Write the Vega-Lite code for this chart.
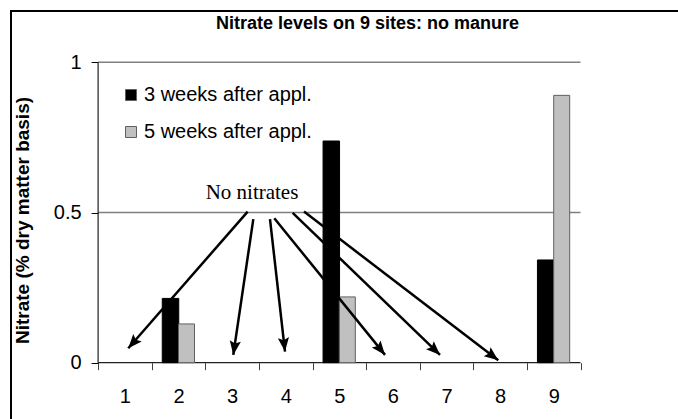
{
  "$schema": "https://vega.github.io/schema/vega-lite/v6.json",
  "width": 670,
  "height": 411,
  "autosize": "none",
  "padding": {"left": 11, "top": 11, "right": -3, "bottom": -3},
  "background": "white",
  "config": {"view": {"stroke": "black", "strokeWidth": 2}, "font": "Liberation Sans"},
  "title": {"text": "Nitrate levels on 9 sites: no manure", "font": "Liberation Sans", "fontSize": 18, "fontWeight": "bold", "color": "black", "anchor": "middle", "frame": "group", "orient": "top", "offset": -19.5, "baseline": "alphabetic", "dx": 21.5, "dy": 16.5},
  "resolve": {"axis": {"x": "independent"}},
  "datasets": {
    "bars": [
      {"site": 2, "series": "3 weeks after appl.", "nitrate": 0.214},
      {"site": 2, "series": "5 weeks after appl.", "nitrate": 0.129},
      {"site": 5, "series": "3 weeks after appl.", "nitrate": 0.738},
      {"site": 5, "series": "5 weeks after appl.", "nitrate": 0.219},
      {"site": 9, "series": "3 weeks after appl.", "nitrate": 0.342},
      {"site": 9, "series": "5 weeks after appl.", "nitrate": 0.89}
    ],
    "arrows": [
      {"x": 3.291, "y": 0.503, "x2": 1.063, "y2": 0.048},
      {"x": 3.396, "y": 0.478, "x2": 3.022, "y2": 0.026},
      {"x": 3.707, "y": 0.478, "x2": 3.987, "y2": 0.037},
      {"x": 3.787, "y": 0.481, "x2": 5.853, "y2": 0.026},
      {"x": 4.13, "y": 0.499, "x2": 6.879, "y2": 0.026},
      {"x": 4.341, "y": 0.503, "x2": 7.966, "y2": 0.008}
    ],
    "grid": [{"v": 0.5}, {"v": 1}],
    "axislines": [
      {"x": 0.5, "y": 0, "x2": 0.5, "y2": 1, "kind": "y"},
      {"x": 0.5, "y": 0, "x2": 9.5, "y2": 0, "kind": "x"}
    ],
    "note": [{"x": 3.371, "y": 0.545, "label": "No nitrates"}]
  },
  "layer": [
    {
      "data": {"name": "grid"},
      "mark": {"type": "rule", "color": "#808080", "strokeWidth": 1.5},
      "encoding": {
        "x": {
          "datum": 0.5, "type": "quantitative",
          "scale": {"domain": [-1.125, 11.375], "nice": false, "zero": false, "padding": 0},
          "axis": {
            "orient": "bottom", "offset": -59.3, "title": null,
            "values": [0.5, 1.5, 2.5, 3.5, 4.5, 5.5, 6.5, 7.5, 8.5, 9.5],
            "domain": false, "grid": false, "labels": false,
            "tickSize": 7, "tickColor": "#404040", "tickWidth": 1
          }
        },
        "x2": {"datum": 9.5},
        "y": {
          "field": "v", "type": "quantitative",
          "scale": {"domain": [-0.1974, 1.1708], "nice": false, "zero": false, "padding": 0},
          "axis": {
            "orient": "left", "offset": -87.1, "values": [0, 0.5, 1], "format": "~g",
            "domain": false, "grid": false, "tickSize": 7, "tickColor": "black", "tickWidth": 1,
            "labelFont": "Liberation Sans", "labelFontSize": 20, "labelColor": "black", "labelPadding": 10,
            "title": "Nitrate (% dry matter basis)", "titleFont": "Liberation Sans", "titleFontSize": 19,
            "titleFontWeight": "bold", "titleColor": "black", "titleAngle": -90,
            "titleX": -76, "titleY": 209, "titleAlign": "center", "titleBaseline": "middle"
          }
        }
      }
    },
    {
      "data": {"name": "axislines"},
      "mark": {"type": "rule", "color": "#202020", "strokeWidth": 1.2},
      "encoding": {
        "x": {
          "field": "x", "type": "quantitative",
          "axis": {
            "orient": "bottom", "offset": -59.3, "title": null,
            "values": [1, 2, 3, 4, 5, 6, 7, 8, 9], "format": "d",
            "domain": false, "grid": false, "ticks": false,
            "labelFont": "Liberation Sans", "labelFontSize": 20, "labelColor": "black", "labelPadding": 24
          }
        },
        "x2": {"field": "x2"},
        "y": {"field": "y", "type": "quantitative"},
        "y2": {"field": "y2"}
      }
    },
    {
      "data": {"name": "bars"},
      "transform": [{"filter": "datum.series === '3 weeks after appl.'"}],
      "mark": {"type": "bar", "width": 16.5, "xOffset": -8, "stroke": "black", "strokeWidth": 1},
      "encoding": {
        "x": {"field": "site", "type": "quantitative", "axis": null},
        "y": {"field": "nitrate", "type": "quantitative"},
        "y2": {"datum": 0},
        "color": {
          "field": "series", "type": "nominal",
          "scale": {"domain": ["3 weeks after appl.", "5 weeks after appl."], "range": ["#000000", "#c0c0c0"]},
          "legend": {
            "orient": "none", "legendX": 110, "legendY": 74, "title": null, "padding": 0,
            "symbolType": "square", "symbolSize": 121, "symbolStrokeColor": "#333333", "symbolStrokeWidth": 1,
            "labelFont": "Liberation Sans", "labelFontSize": 20, "labelColor": "black", "labelLimit": 0,
            "rowPadding": 17, "labelOffset": 3
          }
        }
      }
    },
    {
      "data": {"name": "bars"},
      "transform": [{"filter": "datum.series === '5 weeks after appl.'"}],
      "mark": {"type": "bar", "width": 16, "xOffset": 8, "stroke": "#606060", "strokeWidth": 1},
      "encoding": {
        "x": {"field": "site", "type": "quantitative", "axis": null},
        "y": {"field": "nitrate", "type": "quantitative"},
        "y2": {"datum": 0},
        "color": {"field": "series", "type": "nominal"}
      }
    },
    {
      "data": {"name": "arrows"},
      "mark": {"type": "rule", "color": "black", "strokeWidth": 2.5},
      "encoding": {
        "x": {"field": "x", "type": "quantitative", "axis": null},
        "x2": {"field": "x2"},
        "y": {"field": "y", "type": "quantitative"},
        "y2": {"field": "y2"}
      }
    },
    {
      "data": {"name": "arrows"},
      "transform": [{"calculate": "atan2((datum.x2 - datum.x) * 53.6, (datum.y2 - datum.y) * 300.4) * 180 / PI", "as": "ang"}],
      "mark": {"type": "point", "shape": "M0,0L0.4,1L0,0.82L-0.4,1Z", "filled": true, "color": "black", "opacity": 1, "size": 784, "strokeWidth": 0},
      "encoding": {
        "x": {"field": "x2", "type": "quantitative", "axis": null},
        "y": {"field": "y2", "type": "quantitative"},
        "angle": {"field": "ang", "type": "quantitative", "scale": null}
      }
    },
    {
      "data": {"name": "note"},
      "mark": {"type": "text", "font": "Liberation Serif", "fontSize": 21, "align": "center", "baseline": "alphabetic", "color": "black"},
      "encoding": {
        "x": {"field": "x", "type": "quantitative", "axis": null},
        "y": {"field": "y", "type": "quantitative"},
        "text": {"field": "label"}
      }
    }
  ]
}
